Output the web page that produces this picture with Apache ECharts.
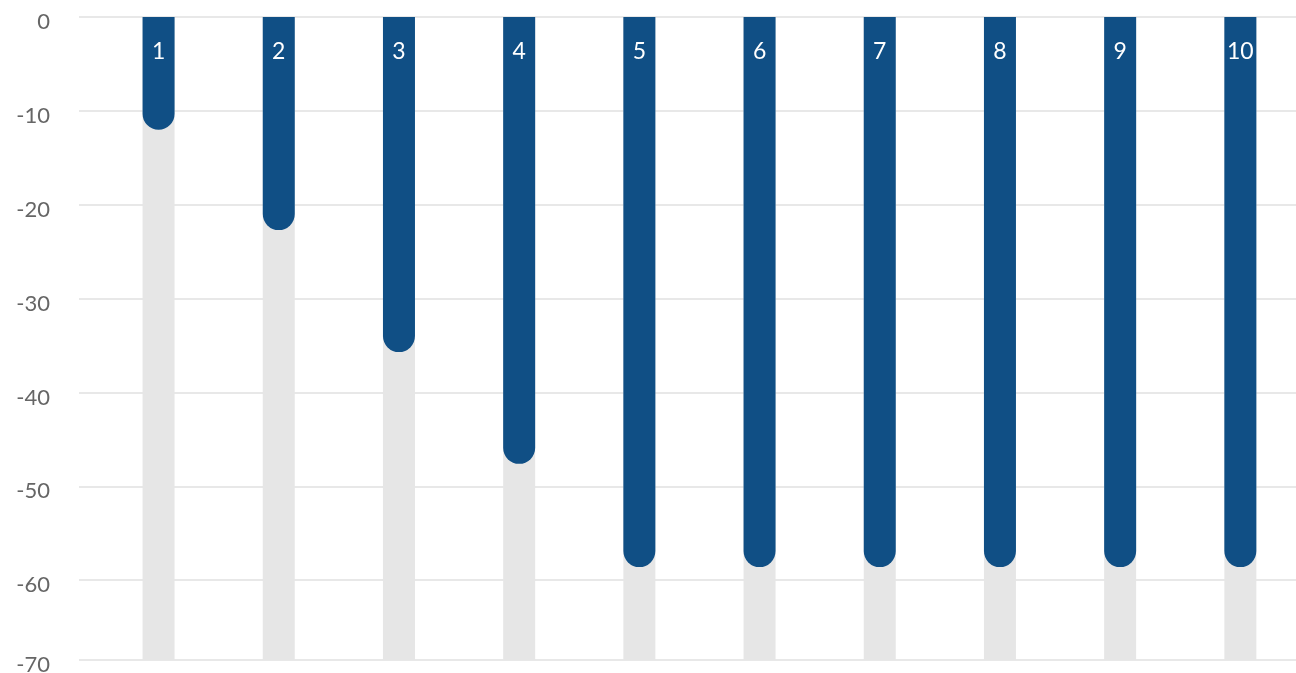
<!DOCTYPE html>
<html>
<head>
<meta charset="utf-8">
<title>Bars</title>
<script src="https://cdn.jsdelivr.net/npm/echarts@6/dist/echarts.min.js"></script>
<style>
  html, body { margin: 0; padding: 0; background: #ffffff; }
  #chart { width: 1296px; height: 673px; }
</style>
</head>
<body>
<div id="chart"></div>
<script>
// Category labels shown inside each bar
const categories = ['1', '2', '3', '4', '5', '6', '7', '8', '9', '10'];
// Bar values (negative, hanging from zero)
const values = [-12, -22.7, -35.7, -47.6, -58.6, -58.6, -58.6, -58.6, -58.6, -58.6];
// Vertical axis range
const yMin = -68.5;
const yMax = 0;

const chart = echarts.init(document.getElementById('chart'), null, { renderer: 'canvas' });

const seriesData = values.map((v, i) => [i + 1, v]);

chart.setOption({
  animation: false,
  backgroundColor: '#ffffff',
  grid: {
    left: 79, right: 0, top: 17, bottom: 13,
    containLabel: false,
    outerBoundsMode: 'none'
  },
  xAxis: {
    type: 'value',
    min: 0.338,
    max: 10.463,
    show: false
  },
  yAxis: {
    type: 'value',
    min: yMin,
    max: yMax,
    splitNumber: 7,
    axisLine: { show: false },
    axisTick: { show: false },
    axisLabel: {
      color: '#666666',
      fontFamily: 'Lato',
      fontSize: 22,
      margin: 29,
      verticalAlign: 'top',
      lineHeight: 10,
      formatter: v => String(Math.round(v / 10) * 10)
    },
    splitLine: { lineStyle: { color: '#e8e8e8', width: 2 } }
  },
  series: [{
    type: 'bar',
    data: seriesData,
    barWidth: 32,
    showBackground: true,
    backgroundStyle: { color: '#e6e6e6' },
    itemStyle: { color: '#104f85', borderRadius: [0, 0, 16, 16] },
    label: {
      show: true,
      position: 'insideTop',
      distance: 23,
      color: '#ffffff',
      fontFamily: 'Lato',
      fontSize: 23,
      formatter: p => categories[p.dataIndex]
    }
  }]
});
</script>
</body>
</html>
